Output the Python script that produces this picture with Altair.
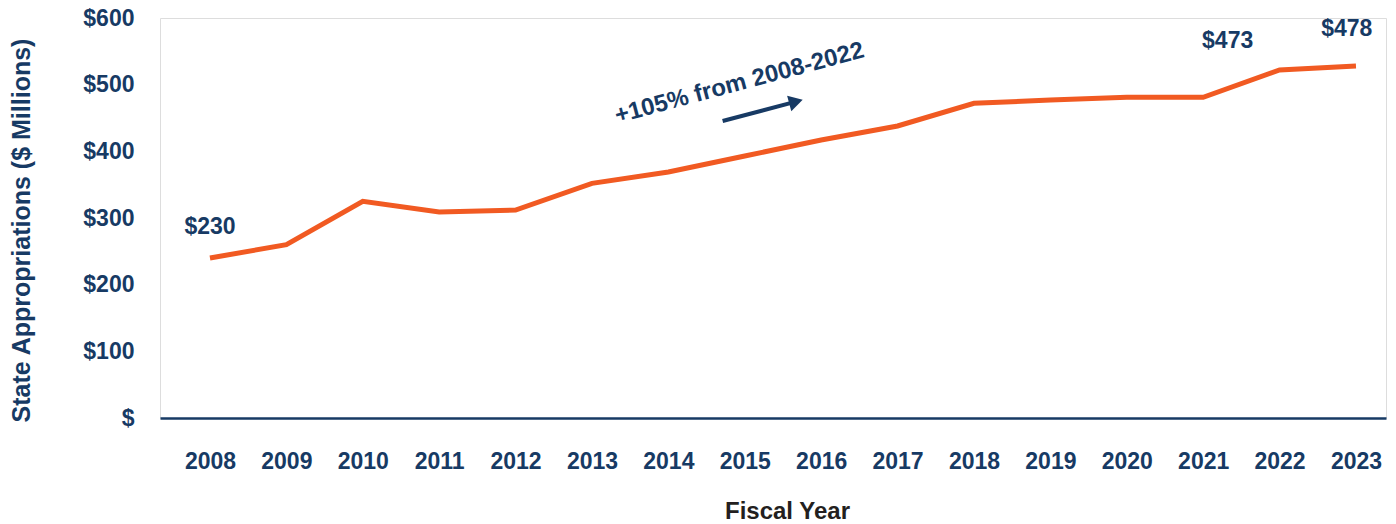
import altair as alt
import pandas as pd

years = list(range(2008, 2024))
values = [240, 260, 325, 309, 312, 352, 369, 393, 417, 438, 472, 477, 481, 481, 522, 528]

label_text = ["$230", "$473", "$478"]
label_x = [2008.0, 2021.32, 2022.88]
label_y = [286, 566, 584]

note_text = ["+105% from 2008-2022"]
note_x = [2014.93]
note_y = [502]

arrow_x = [2014.71]
arrow_y = [445.5]
arrow_x2 = [2015.67]
arrow_y2 = [474.5]

NAVY = "#173A64"
ORANGE = "#F15A22"
FONT = "Liberation Sans"

df = pd.DataFrame({"year": years, "value": values})
lab = pd.DataFrame({"t": label_text, "x": label_x, "y": label_y})
note = pd.DataFrame({"t": note_text, "x": note_x, "y": note_y})
arr = pd.DataFrame({"x": arrow_x, "y": arrow_y, "x2": arrow_x2, "y2": arrow_y2})

xscale = alt.Scale(domain=[2007.346, 2023.393], nice=False, zero=False)
yscale = alt.Scale(domain=[0, 600], nice=False)

line = alt.Chart(df).mark_line(color=ORANGE, strokeWidth=5).encode(
    x=alt.X("year:Q", scale=xscale,
            axis=alt.Axis(values=years, format="d", title="Fiscal Year", grid=False,
                          ticks=False, domainColor=NAVY, domainWidth=2.5,
                          labelFont=FONT, labelFontSize=23,
                          labelFontWeight="bold", labelColor=NAVY, labelPadding=32,
                          labelFlush=False, labelOverlap=False,
                          titleFont=FONT, titleFontSize=24, titleFontWeight="bold",
                          titleColor="#231F20", titlePadding=26, titleX=627)),
    y=alt.Y("value:Q", scale=yscale,
            axis=alt.Axis(values=[0, 100, 200, 300, 400, 500, 600], grid=False, ticks=False,
                          domain=False, labelExpr="datum.value == 0 ? '$' : '$' + datum.value",
                          labelFont=FONT, labelFontSize=23, labelFontWeight="bold",
                          labelColor=NAVY, labelPadding=26,
                          title="State Appropriations ($ Millions)",
                          titleFont=FONT, titleFontSize=25, titleFontWeight="bold",
                          titleColor=NAVY, titleX=-131, titleY=212,
                          titleBaseline="alphabetic")),
)

labels = alt.Chart(lab).mark_text(font=FONT, fontSize=23, fontWeight="bold", color=NAVY).encode(
    x=alt.X("x:Q", scale=xscale), y=alt.Y("y:Q", scale=yscale), text="t:N")

notes = alt.Chart(note).mark_text(font=FONT, fontSize=24, fontWeight="bold", color=NAVY,
                                  angle=345).encode(
    x=alt.X("x:Q", scale=xscale), y=alt.Y("y:Q", scale=yscale), text="t:N")

shaft = alt.Chart(arr).mark_rule(color=NAVY, strokeWidth=4).encode(
    x=alt.X("x:Q", scale=xscale), y=alt.Y("y:Q", scale=yscale),
    x2="x2:Q", y2="y2:Q")

head = alt.Chart(arr).mark_point(shape="triangle-right", filled=True, color=NAVY, opacity=1,
                                 size=260, angle=345).encode(
    x=alt.X("x2:Q", scale=xscale), y=alt.Y("y2:Q", scale=yscale))

chart = alt.layer(line, labels, notes, shaft, head).properties(
    width=1226, height=400,
    autosize=alt.AutoSizeParams(type="none"),
    padding={"left": 152, "top": 10, "right": 2, "bottom": 106},
).configure_view(stroke=None).configure(background="white")

chart.save("out.html", embed_options={"renderer": "svg", "actions": False})
